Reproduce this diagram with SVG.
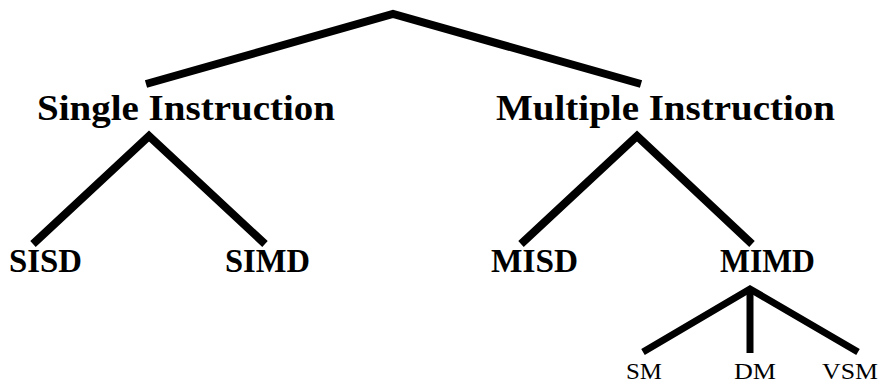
<svg xmlns="http://www.w3.org/2000/svg" width="882" height="384" viewBox="0 0 882 384">
<style>
.c{fill:none;stroke:#000;stroke-width:8;stroke-linejoin:miter;stroke-linecap:butt}
.c2{fill:none;stroke:#000;stroke-width:7;stroke-linejoin:miter;stroke-linecap:butt}
.h{font-family:"Liberation Serif",serif;font-weight:bold;font-size:35px;fill:#000}
.m{font-family:"Liberation Serif",serif;font-weight:bold;font-size:33px;fill:#000}
.s{font-family:"Liberation Serif",serif;font-size:23px;fill:#000}
</style>
<rect width="882" height="384" fill="#fff"/>
<g id="connectors">
<polyline class="c" points="146,84 393,14 641,84"/>
<polyline class="c" points="33,244 149,136 265,244"/>
<polyline class="c" points="521,244 637,136 752,244"/>
<polyline class="c2" points="643,352 750,289 858,352"/>
<line class="c2" x1="750" y1="289" x2="750" y2="353"/>
</g>
<g id="single"><text class="h" x="37" y="120" textLength="298" lengthAdjust="spacingAndGlyphs">Single Instruction</text></g>
<g id="multiple"><text class="h" x="496" y="120" textLength="339" lengthAdjust="spacingAndGlyphs">Multiple Instruction</text></g>
<g id="sisd"><text class="m" x="9" y="272" textLength="73" lengthAdjust="spacingAndGlyphs">SISD</text></g>
<g id="simd"><text class="m" x="225" y="272" textLength="85" lengthAdjust="spacingAndGlyphs">SIMD</text></g>
<g id="misd"><text class="m" x="491" y="272" textLength="87" lengthAdjust="spacingAndGlyphs">MISD</text></g>
<g id="mimd"><text class="m" x="720" y="272" textLength="95" lengthAdjust="spacingAndGlyphs">MIMD</text></g>
<g id="sm"><text class="s" x="626" y="379" textLength="36" lengthAdjust="spacingAndGlyphs">SM</text></g>
<g id="dm"><text class="s" x="734" y="379" textLength="42" lengthAdjust="spacingAndGlyphs">DM</text></g>
<g id="vsm"><text class="s" x="822" y="379" textLength="56" lengthAdjust="spacingAndGlyphs">VSM</text></g>
</svg>
